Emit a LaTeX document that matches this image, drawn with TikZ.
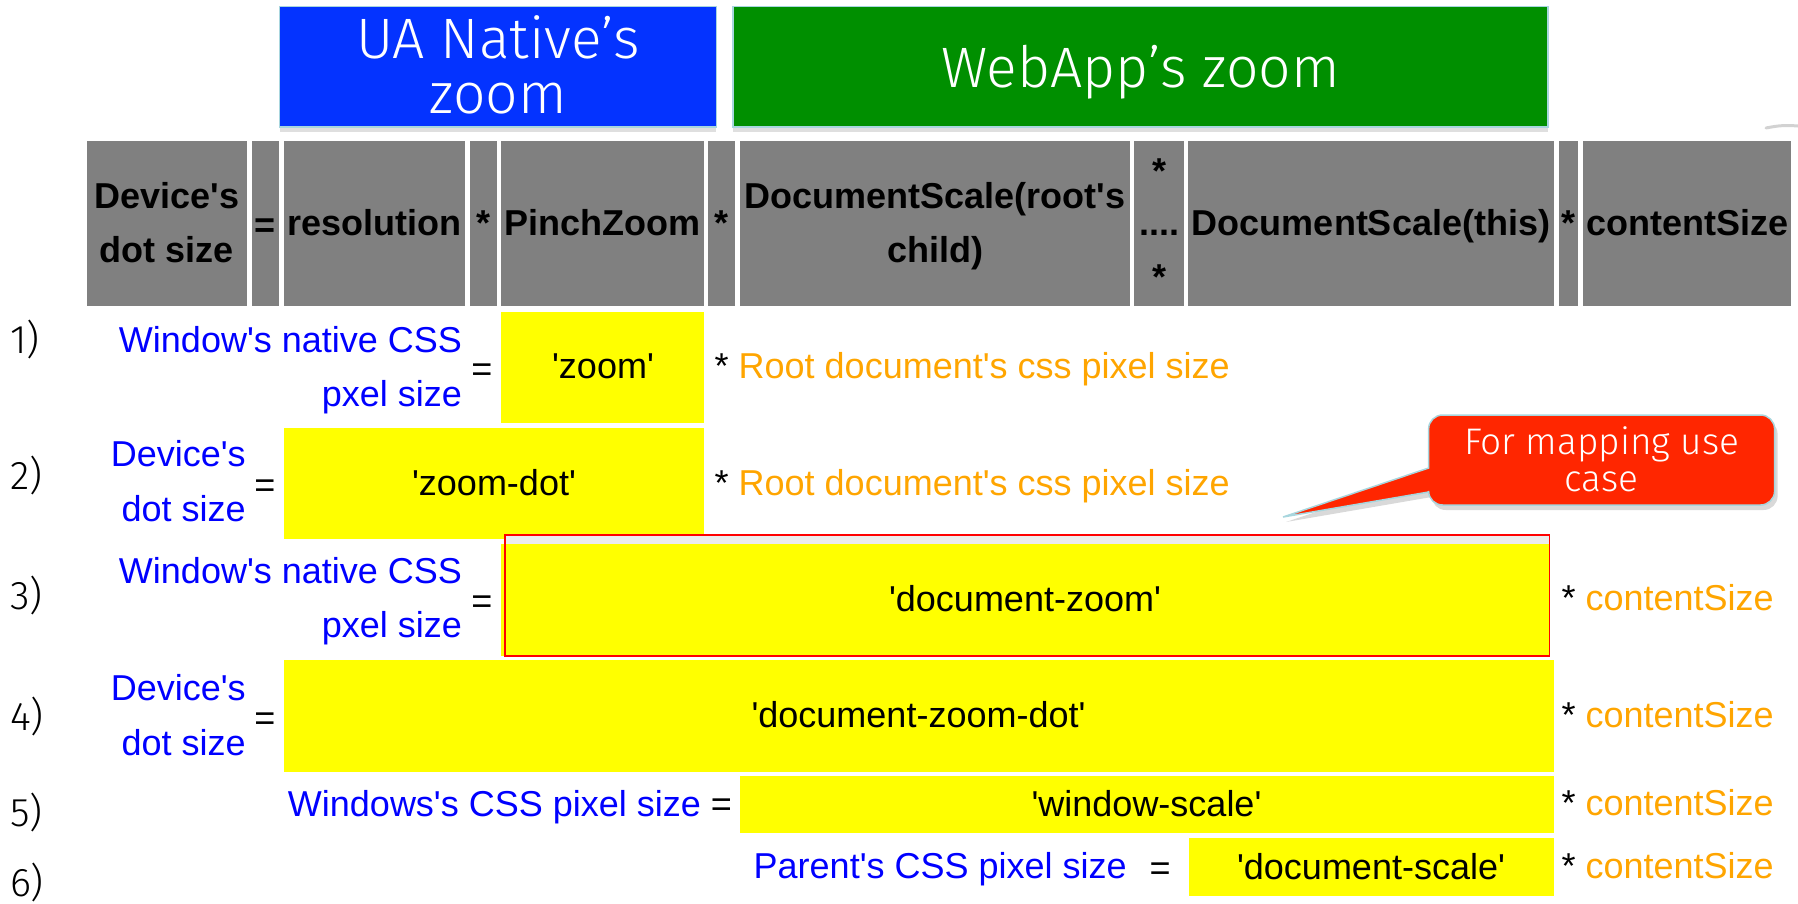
\documentclass[tikz,border=0pt]{standalone}
\usepackage{fontspec}
\setmainfont{Liberation Sans}[Ligatures=TeXOff]
\newfontfamily\lightfont{Fira Sans Light}
\usetikzlibrary{shadows}
\definecolor{uablue}{RGB}{4,51,255}
\definecolor{wagreen}{RGB}{0,143,0}
\definecolor{hdrgray}{RGB}{128,128,128}
\definecolor{txtblue}{RGB}{0,0,255}
\definecolor{txtorange}{RGB}{255,165,0}
\definecolor{callred}{RGB}{255,38,0}
\definecolor{frameline}{RGB}{168,214,222}
\definecolor{boxyellow}{RGB}{255,255,0}
\begin{document}
\begin{tikzpicture}[x=1pt,y=-1pt,
  every node/.style={inner sep=0pt, outer sep=0pt},
  txt/.style={font=\fontsize{36}{54}\selectfont, anchor=base},
  hdr/.style={font=\fontsize{36}{54}\selectfont\bfseries, anchor=base},
  bluetxt/.style={txt, text=txtblue},
  lefttxt/.style={bluetxt, anchor=base east},
  num/.style={font=\lightfont\fontsize{40}{54}\selectfont, anchor=base west},
  ttl/.style={font=\lightfont\fontsize{57}{60}\selectfont, text=white, anchor=base},
  calltxt/.style={font=\lightfont\fontsize{37}{40}\selectfont, text=white, anchor=base},
  cell/.style={fill=hdrgray},
  ybox/.style={fill=boxyellow},
  titlebox/.style={draw=frameline, line width=1.5pt, drop shadow={shadow xshift=0pt, shadow yshift=-5pt, opacity=0.25}},
  mult/.style={txt, anchor=base west}]
\path[use as bounding box] (0,0) rectangle (1798,903);

% title boxes
\path[titlebox, fill=uablue] (279.6,6.7) rectangle (716.4,127);
\path[titlebox, fill=wagreen] (733,6.7) rectangle (1548,127);
\node[ttl] (ua1) at (498,58) {UA Native’s};
\node[ttl] (ua2) at (498,113) {zoom};
\node[ttl] (wa) at (1140.5,87) {WebApp’s zoom};
\draw[gray!35, line width=3pt, line cap=round] (1766,128) to[bend left=8] (1798,126);

% header cells
\fill[cell] (87,140.7) rectangle (247,306);
\fill[cell] (252,140.7) rectangle (279,306);
\fill[cell] (283.6,140.7) rectangle (465,306);
\fill[cell] (469.6,140.7) rectangle (496.6,306);
\fill[cell] (501,140.7) rectangle (703.8,306);
\fill[cell] (707.8,140.7) rectangle (735.4,306);
\fill[cell] (740,140.7) rectangle (1129.7,306);
\fill[cell] (1134,140.7) rectangle (1184,306);
\fill[cell] (1188,140.7) rectangle (1554,306);
\fill[cell] (1558.6,140.7) rectangle (1578,306);
\fill[cell] (1582.7,140.7) rectangle (1791,306);
\node[hdr] (h1a) at (167,208) {Device's};
\node[hdr] (h1b) at (167,262) {dot size};
\node[hdr] (h2) at (265.5,237) {=};
\node[hdr] (h3) at (374.3,235) {resolution};
\node[hdr] (h4) at (483,235) {*};
\node[hdr] (h5) at (602.4,235) {PinchZoom};
\node[hdr] (h6) at (721.6,235) {*};
\node[hdr] (h7a) at (935,208) {DocumentScale(root's};
\node[hdr] (h7b) at (935,262) {child)};
\node[hdr] (h8a) at (1159,183) {*};
\node[hdr] (h8b) at (1159,235) {....};
\node[hdr] (h8c) at (1159,289) {*};
\node[hdr] (h9) at (1371,235) {DocumentScale(this)};
\node[hdr] (h10) at (1568.3,235) {*};
\node[hdr] (h11) at (1687,235) {contentSize};

% row numbers
\node[num] (n1) at (10,353) {1)};
\node[num] (n2) at (10,489) {2)};
\node[num] (n3) at (10,609) {3)};
\node[num] (n4) at (10,730) {4)};
\node[num] (n5) at (10,826) {5)};
\node[num] (n6) at (10,896) {6)};

% row 1
\fill[ybox] (501,311.7) rectangle (704,422.7);
\node[lefttxt] (r1a) at (462,352) {Window's native CSS};
\node[lefttxt] (r1b) at (462,406) {pxel size};
\node[txt] (r1eq) at (482,381) {=};
\node[txt] (r1q) at (603,378) {'zoom'};
\node[mult] (r1m) at (714.7,378) {* \textcolor{txtorange}{Root document's css pixel size}};

% row 2
\fill[ybox] (283.6,427.7) rectangle (704,539);
\node[lefttxt] (r2a) at (245.7,466.7) {Device's};
\node[lefttxt] (r2b) at (245.7,521.7) {dot size};
\node[txt] (r2eq) at (265,497) {=};
\node[txt] (r2q) at (494,495) {'zoom-dot'};
\node[mult] (r2m) at (714.7,495) {* \textcolor{txtorange}{Root document's css pixel size}};

% row 3
\fill[gray!15] (505,535) rectangle (1549.5,544);
\fill[ybox] (501,544) rectangle (1549,656);
\draw[red, line width=1.5pt] (505,535) rectangle (1549.5,656);
\node[lefttxt] (r3a) at (462,583.3) {Window's native CSS};
\node[lefttxt] (r3b) at (462,637.6) {pxel size};
\node[txt] (r3eq) at (482,613.7) {=};
\node[txt] (r3q) at (1025,611) {'document-zoom'};
\node[mult] (r3m) at (1561.5,610) {* \textcolor{txtorange}{contentSize}};

% row 4
\fill[ybox] (283.6,660) rectangle (1553.5,771.7);
\node[lefttxt] (r4a) at (245.7,700) {Device's};
\node[lefttxt] (r4b) at (245.7,755) {dot size};
\node[txt] (r4eq) at (265,730) {=};
\node[txt] (r4q) at (918.5,727) {'document-zoom-dot'};
\node[mult] (r4m) at (1561.5,727) {* \textcolor{txtorange}{contentSize}};

% row 5
\fill[ybox] (740,776) rectangle (1553.5,833);
\node[txt, anchor=base east] (r5a) at (732,816.7) {\textcolor{txtblue}{Windows's CSS pixel size} =};
\node[txt] (r5q) at (1146.5,816.7) {'window-scale'};
\node[mult] (r5m) at (1561.5,815) {* \textcolor{txtorange}{contentSize}};

% row 6
\fill[ybox] (1188.6,838) rectangle (1553.5,896);
\node[bluetxt, anchor=base west] (r6a) at (753.7,878) {Parent's CSS pixel size};
\node[txt] (r6eq) at (1160,880) {=};
\node[txt] (r6q) at (1371,879) {'document-scale'};
\node[mult] (r6m) at (1561.5,878) {* \textcolor{txtorange}{contentSize}};

% callout
\path[fill=callred, draw=frameline, line width=1.5pt,
      drop shadow={shadow xshift=3pt, shadow yshift=-5pt, opacity=0.3}]
  (1428.6,492) [rounded corners=14pt] -- (1428.6,505) -- (1774.6,505) -- (1774.6,415)
  -- (1428.6,415) [sharp corners] -- (1428.6,468) -- (1283,517) -- cycle;
\node[calltxt] (co1) at (1601.6,454) {For mapping use};
\node[calltxt] (co2) at (1601.6,491) {case};
\end{tikzpicture}
\end{document}
